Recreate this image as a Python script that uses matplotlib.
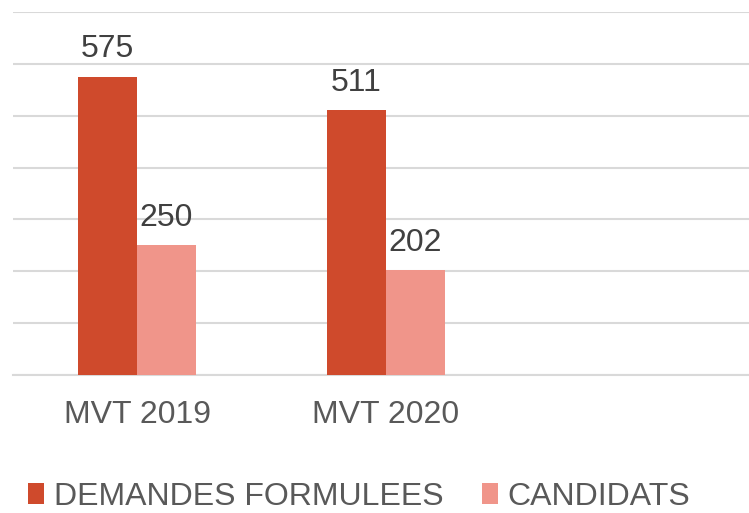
import numpy as np
import matplotlib.pyplot as plt

plt.rcParams['font.family'] = ['Liberation Sans', 'DejaVu Sans']

# Data
categories = ['MVT 2019', 'MVT 2020', '']
demandes = [575, 511, np.nan]
candidats = [250, 202, np.nan]
series_names = ['DEMANDES FORMULEES', 'CANDIDATS']
colors = ['#CF4A2C', '#F0958A']

fig = plt.figure(figsize=(7.49, 5.13), dpi=100)
ax = fig.add_axes([12.5 / 749, 1 - 375 / 513, 747 / 749, 363 / 513])

x = np.arange(len(categories))
w = 0.237
b1 = ax.bar(x - w / 2, demandes, w, color=colors[0], label=series_names[0], zorder=3)
b2 = ax.bar(x + w / 2, candidats, w, color=colors[1], label=series_names[1], zorder=3)

for bars, vals in [(b1, demandes), (b2, candidats)]:
    for rect, v in zip(bars, vals):
        if np.isnan(v):
            continue
        ax.annotate(f'{v:.0f}', (rect.get_x() + rect.get_width() / 2, v),
                    xytext=(0, 9), textcoords='offset points',
                    ha='center', va='bottom', fontsize=23, color='#404040')

ax.set_xlim(-0.5, 2.5)
ax.set_ylim(0, 700)
ax.set_yticks(np.arange(0, 701, 100))
ax.yaxis.grid(True, color='#D9D9D9', linewidth=1.5, zorder=0)
ax.set_yticklabels([])
ax.set_xticks(x)
ax.set_xticklabels(categories, fontsize=23, color='#595959')
ax.tick_params(length=0, pad=18)
for s in ['top', 'right', 'left']:
    ax.spines[s].set_visible(False)
ax.spines['bottom'].set_color('#D9D9D9')
ax.spines['bottom'].set_linewidth(1.5)

fig.legend(loc='center', bbox_to_anchor=(359 / 749, 1 - 497 / 513), ncol=2,
           frameon=False, fontsize=23, labelcolor='#595959',
           handlelength=0.5, handleheight=0.65, handletextpad=0.3,
           columnspacing=1.2, borderaxespad=0, borderpad=0)

fig.savefig('out.png', dpi=100)
